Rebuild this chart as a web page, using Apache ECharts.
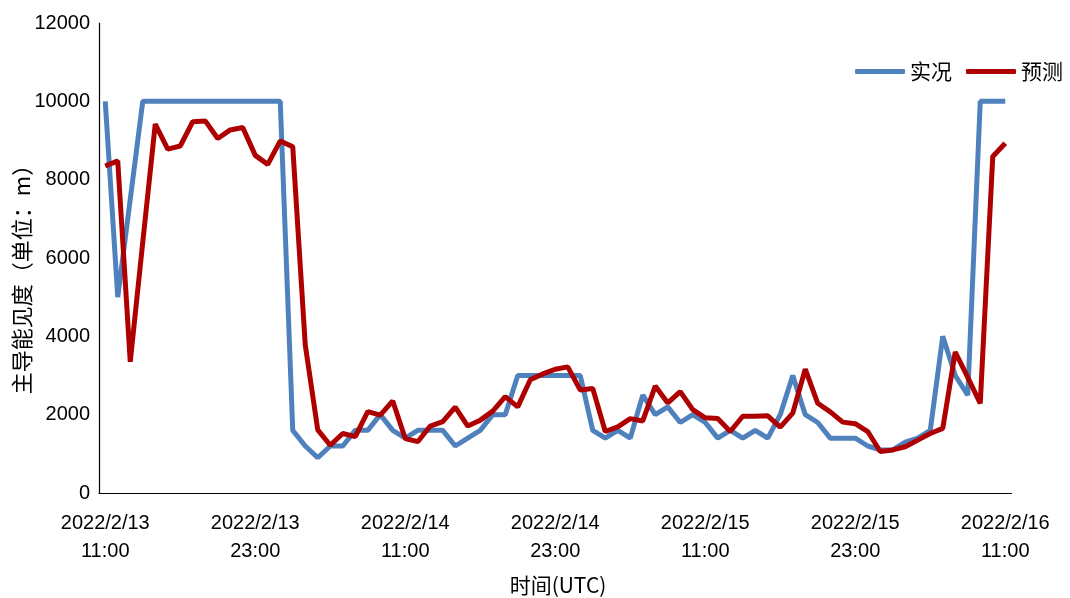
<!DOCTYPE html>
<html>
<head>
<meta charset="utf-8">
<script src="https://cdn.jsdelivr.net/npm/echarts@6/dist/echarts.min.js"></script>
<style>
  html, body { margin: 0; padding: 0; background: #fff; }
  #main { width: 1070px; height: 598px; }
</style>
</head>
<body>
<div id="main"></div>
<script>
// hourly observations, 2022/2/13 11:00 -> 2022/2/16 11:00 (UTC)
const startTime = Date.UTC(2022, 1, 13, 11);
const hourCount = 73;
const yTicks = [0, 2000, 4000, 6000, 8000, 10000, 12000];

const actual = [
  10000, 5000, 7500, 10000, 10000, 10000, 10000, 10000, 10000, 10000,
  10000, 10000, 10000, 10000, 10000, 1600, 1200, 900, 1200, 1200,
  1600, 1600, 2000, 1600, 1400, 1600, 1600, 1600, 1200, 1400,
  1600, 2000, 2000, 3000, 3000, 3000, 3000, 3000, 3000, 1600,
  1400, 1600, 1400, 2500, 2000, 2200, 1800, 2000, 1800, 1400,
  1600, 1400, 1600, 1400, 2000, 3000, 2000, 1800, 1400, 1400,
  1400, 1200, 1100, 1100, 1300, 1400, 1600, 4000, 3000, 2500,
  10000, 10000, 10000
];

const predicted = [
  8350, 8480, 3350, 6400, 9420, 8780, 8860, 9480, 9500, 9050,
  9270, 9330, 8620, 8390, 8990, 8840, 3780, 1610, 1220, 1520,
  1440, 2080, 1990, 2350, 1390, 1310, 1710, 1820, 2190, 1710,
  1860, 2090, 2460, 2200, 2890, 3040, 3160, 3220, 2630, 2670,
  1570, 1690, 1900, 1840, 2730, 2300, 2590, 2130, 1920, 1900,
  1570, 1960, 1960, 1970, 1680, 2040, 3160, 2290, 2070, 1810,
  1770, 1570, 1060, 1100, 1180, 1350, 1520, 1650, 3600, 2950,
  2290, 8590, 8930
];

const categories = [];
for (let i = 0; i < hourCount; i++) {
  const d = new Date(startTime + i * 3600 * 1000);
  const hh = String(d.getUTCHours()).padStart(2, '0');
  categories.push(d.getUTCFullYear() + '/' + (d.getUTCMonth() + 1) + '/' + d.getUTCDate() + '\n' + hh + ':00');
}

const latinFont = '"Liberation Sans", "Noto Sans CJK SC", sans-serif';
const cjkFont = '"Noto Sans CJK SC", "Liberation Sans", sans-serif';

const chart = echarts.init(document.getElementById('main'));
const option = {
  animation: false,
  backgroundColor: '#fff',
  grid: {
    left: 99,
    right: 58.5,
    top: 23,
    bottom: 105,
  },
  legend: {
    right: 2,
    top: 56,
    itemWidth: 50,
    itemHeight: 5,
    itemGap: 14,
    icon: 'roundRect',
    textStyle: {
      fontFamily: cjkFont,
      fontSize: 21,
      color: '#000',
    },
    data: ['实况', '预测'],
  },
  xAxis: {
    type: 'category',
    data: categories,
    boundaryGap: true,
    axisLine: { lineStyle: { color: '#000', width: 1.2 } },
    axisTick: {
      interval: 11,
      inside: true,
      length: 6,
      lineStyle: { color: '#000' },
    },
    axisLabel: {
      interval: 11,
      margin: 16,
      color: '#000',
      fontFamily: latinFont,
      fontSize: 20,
      lineHeight: 28,
    },
    splitLine: { show: false },
  },
  yAxis: {
    type: 'value',
    min: yTicks[0],
    max: yTicks[yTicks.length - 1],
    interval: 2000,
    axisLine: { show: true, lineStyle: { color: '#000', width: 1.2 } },
    axisTick: { show: false },
    axisLabel: {
      margin: 9,
      color: '#000',
      fontFamily: latinFont,
      fontSize: 20,
      formatter: (v) => String(v),
    },
    splitLine: { show: false },
  },
  graphic: [
    {
      type: 'text',
      x: 22,
      y: 274,
      rotation: Math.PI / 2,
      style: {
        text: '主导能见度（单位：m）',
        fontFamily: cjkFont,
        fontSize: 22,
        fill: '#000',
        align: 'center',
        verticalAlign: 'middle',
      },
    },
    {
      type: 'text',
      x: 558,
      y: 585,
      style: {
        text: '时间(UTC)',
        fontFamily: cjkFont,
        fontSize: 21,
        fill: '#000',
        align: 'center',
        verticalAlign: 'middle',
      },
    },
  ],
  series: [
    {
      name: '实况',
      type: 'line',
      data: actual,
      symbol: 'none',
      lineStyle: { color: '#4F81BD', width: 5 },
      itemStyle: { color: '#4F81BD' },
    },
    {
      name: '预测',
      type: 'line',
      data: predicted,
      symbol: 'none',
      lineStyle: { color: '#AE0000', width: 5 },
      itemStyle: { color: '#AE0000' },
    },
  ],
};
chart.setOption(option);
</script>
</body>
</html>
